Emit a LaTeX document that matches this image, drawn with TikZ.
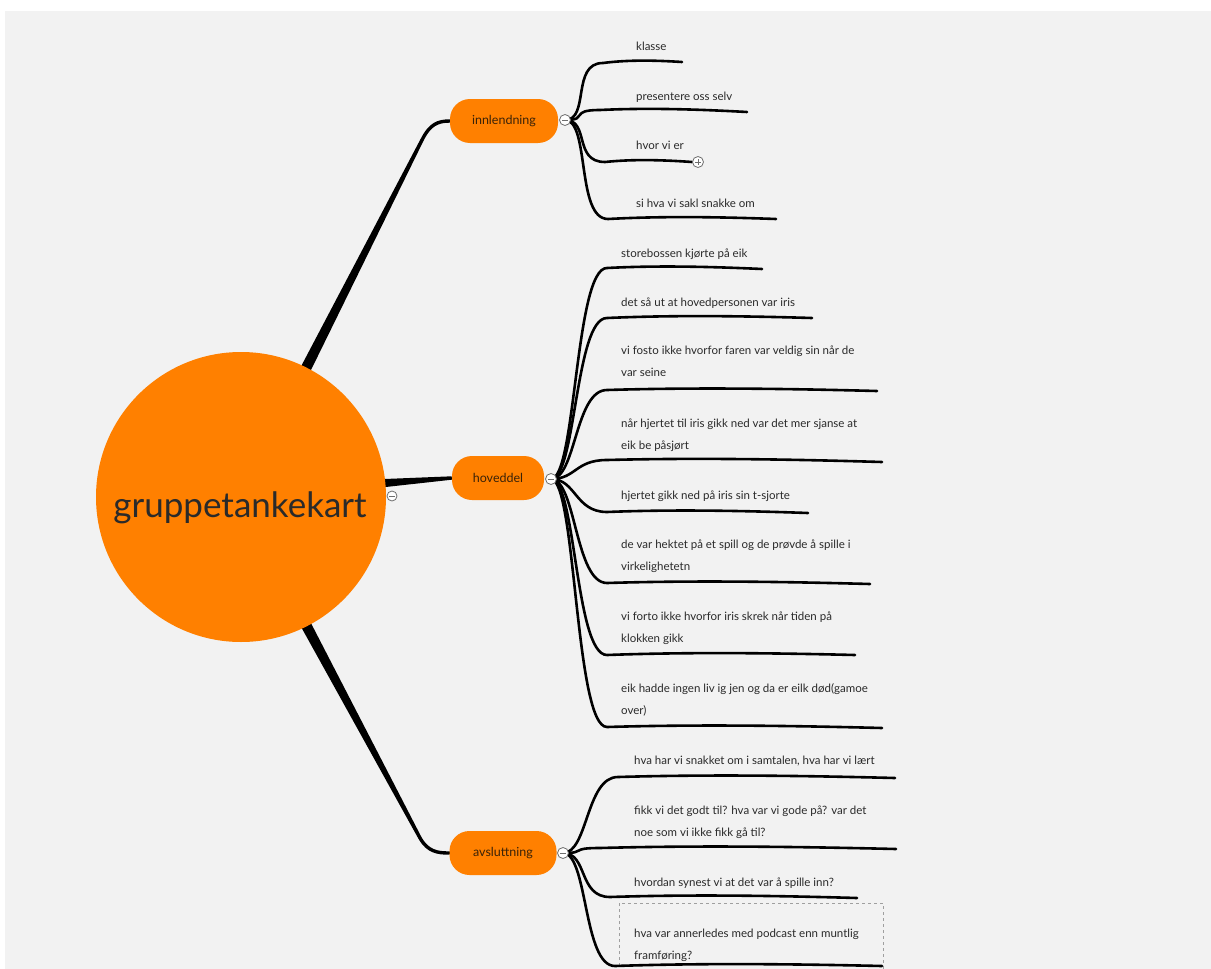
\documentclass[tikz,border=0pt]{standalone}
\usepackage{fontspec}
\setmainfont{Lato}
\usetikzlibrary{calc}
\pgfdeclarelayer{paperlayer}
\pgfdeclarelayer{links}
\pgfsetlayers{paperlayer,links,main}
\definecolor{paper}{HTML}{F2F2F2}
\definecolor{mmorange}{HTML}{FF8000}
\definecolor{ink}{HTML}{2A2A2A}
\definecolor{topicink}{HTML}{3A2208}
\definecolor{foldgray}{HTML}{6E6E6E}
\tikzset{
  topic/.style={fill=mmorange, rounded corners=20pt, minimum height=44pt, inner sep=0pt, font=\fontsize{12.5}{14}\selectfont, text=topicink},
  leaf/.style={anchor=base west, align=left, inner sep=0pt, font=\fontsize{11.5}{22}\selectfont, text=ink},
  kid/.style={line width=2.6pt, line cap=round, draw=black},
  trunk/.style={line width=3.4pt, line cap=round, draw=black},
  fold/.style={circle, draw=foldgray, fill=white, line width=0.8pt, minimum size=11pt, inner sep=0pt},
  foldminus/.style={fold, path picture={\draw[foldgray, line width=0.8pt] ([xshift=-3pt]path picture bounding box.center) -- ([xshift=3pt]path picture bounding box.center);}},
  foldplus/.style={fold, path picture={\draw[foldgray, line width=0.8pt] ([xshift=-3pt]path picture bounding box.center) -- ([xshift=3pt]path picture bounding box.center) ([yshift=-3pt]path picture bounding box.center) -- ([yshift=3pt]path picture bounding box.center);}},
  notebox/.style={draw=gray!75, dashed, line width=0.6pt},
}
\newcommand\kidline[3]{%
  \draw[kid] (#1) .. controls ($(#1)+(25,0)$) and ($(#2)+(-32,0)$) .. (#2)
    .. controls ($(#2)!0.33!(#3)+(0,-3)$) and ($(#2)!0.67!(#3)+(0,-2)$) .. (#3);}
\newcommand\taper[4]{%
  \fill ($(#1)!#3!90:(#2)$) -- ($(#2)!#4!-90:(#1)$) -- ($(#2)!#4!90:(#1)$) -- ($(#1)!#3!-90:(#2)$) -- cycle;}
\begin{document}
\begin{tikzpicture}[x=1pt,y=-1pt]
\useasboundingbox (0,0) rectangle (1211,969);
\begin{pgfonlayer}{paperlayer}
  \fill[white] (0,0) rectangle (1211,969);
  \fill[paper] (5,11) rectangle (1211,969);
\end{pgfonlayer}

% central topic and main topics
\node[circle, fill=mmorange, minimum size=290pt, inner sep=0pt] (root) at (241,497) {};
\node[anchor=base, font=\fontsize{35}{40}\selectfont, text=ink] (roottext) at (240,517) {gruppetankekart};
\node[topic, minimum width=108pt] (inn) at (504,121) {innlendning};
\node[topic, minimum width=92pt] (hov) at (498,478) {hoveddel};
\node[topic, minimum width=107pt] (avs) at (503,853) {avsluttning};

% fold markers
\node[foldminus, minimum size=10pt] (f0) at (392,496) {};
\node[foldminus] (f1) at (565,120) {};
\node[foldminus] (f2) at (551,479) {};
\node[foldminus] (f3) at (563,853) {};
\node[foldplus] (f4) at (698,162) {};

% leaves: innlendning (base = last line's baseline)
\node[leaf] (t11) at (636,50) {klasse};
\node[leaf] (t12) at (636,100) {presentere oss selv};
\node[leaf] (t13) at (636,149) {hvor vi er};
\node[leaf] (t14) at (636,207) {si hva vi sakl snakke om};
% leaves: hoveddel
\node[leaf] (t21) at (621,257) {storebossen kjørte på eik};
\node[leaf] (t22) at (621,306) {det så ut at hovedpersonen var iris};
\node[leaf] (t23) at (621,376) {vi fosto ikke hvorfor faren var veldig sin når de\\var seine};
\node[leaf] (t24) at (621,449) {når hjertet til iris gikk ned var det mer sjanse at\\eik be påsjørt};
\node[leaf] (t25) at (621,499) {hjertet gikk ned på iris sin t-sjorte};
\node[leaf] (t26) at (621,570) {de var hektet på et spill og de prøvde å spille i\\virkelighetetn};
\node[leaf] (t27) at (621,642) {vi forto ikke hvorfor iris skrek når tiden på\\klokken gikk};
\node[leaf] (t28) at (621,714) {eik hadde ingen liv ig jen og da er eilk død(gamoe\\over)};
% leaves: avsluttning
\node[leaf] (t31) at (634,764) {hva har vi snakket om i samtalen, hva har vi lært};
\node[leaf] (t32) at (634,836) {fikk vi det godt til? hva var vi gode på? var det\\noe som vi ikke fikk gå til?};
\node[leaf] (t33) at (634,886) {hvordan synest vi at det var å spille inn?};
\node[leaf] (t34) at (634,959) {hva var annerledes med podcast enn muntlig\\framføring?};

% underline end points
\coordinate (c11) at (603,63);  \coordinate (e11) at (682,62);
\coordinate (c12) at (600,110); \coordinate (e12) at (747,112);
\coordinate (c13) at (605,162); \coordinate (e13) at (f4.west);
\coordinate (c14) at (608,219); \coordinate (e14) at (776,219);
\coordinate (c21) at (607,268); \coordinate (e21) at (762,269);
\coordinate (c22) at (607,318); \coordinate (e22) at (812,318);
\coordinate (c23) at (607,390); \coordinate (e23) at (877,391);
\coordinate (c24) at (607,460); \coordinate (e24) at (882,462);
\coordinate (c25) at (607,512); \coordinate (e25) at (808,513);
\coordinate (c26) at (607,583); \coordinate (e26) at (870,584);
\coordinate (c27) at (607,655); \coordinate (e27) at (855,655);
\coordinate (c28) at (607,727); \coordinate (e28) at (882,728);
\coordinate (c31) at (618,777); \coordinate (e31) at (895,778);
\coordinate (c32) at (600,848); \coordinate (e32) at (896,849);
\coordinate (c33) at (610,897); \coordinate (e33) at (857,898);
\coordinate (c34) at (615,966); \coordinate (e34) at (882,966);

\begin{pgfonlayer}{links}
  % main branches
  \coordinate (m1a) at (298,384); \coordinate (m1b) at (422,140);
  \taper{m1a}{m1b}{5.5pt}{1.7pt}
  \draw[trunk] (m1b) .. controls (430,124) and (438,121) .. (inn.west);
  \coordinate (m2a) at (372,484);
  \taper{m2a}{hov.west}{4.5pt}{1.7pt}
  \coordinate (m3a) at (298,610); \coordinate (m3b) at (420,838);
  \taper{m3a}{m3b}{5.5pt}{1.7pt}
  \draw[trunk] (m3b) .. controls (428,852) and (438,853) .. (avs.west);
  % note box
  \draw[notebox] (619,990) -- (619,903) -- (883,903) -- (883,990);
  % child branches
  \kidline{f1.center}{c11}{e11}
  \kidline{f1.center}{c12}{e12}
  \kidline{f1.center}{c13}{e13}
  \kidline{f1.center}{c14}{e14}
  \kidline{f2.center}{c21}{e21}
  \kidline{f2.center}{c22}{e22}
  \kidline{f2.center}{c23}{e23}
  \kidline{f2.center}{c24}{e24}
  \kidline{f2.center}{c25}{e25}
  \kidline{f2.center}{c26}{e26}
  \kidline{f2.center}{c27}{e27}
  \kidline{f2.center}{c28}{e28}
  \kidline{f3.center}{c31}{e31}
  \kidline{f3.center}{c32}{e32}
  \kidline{f3.center}{c33}{e33}
  \kidline{f3.center}{c34}{e34}
\end{pgfonlayer}
\end{tikzpicture}
\end{document}
